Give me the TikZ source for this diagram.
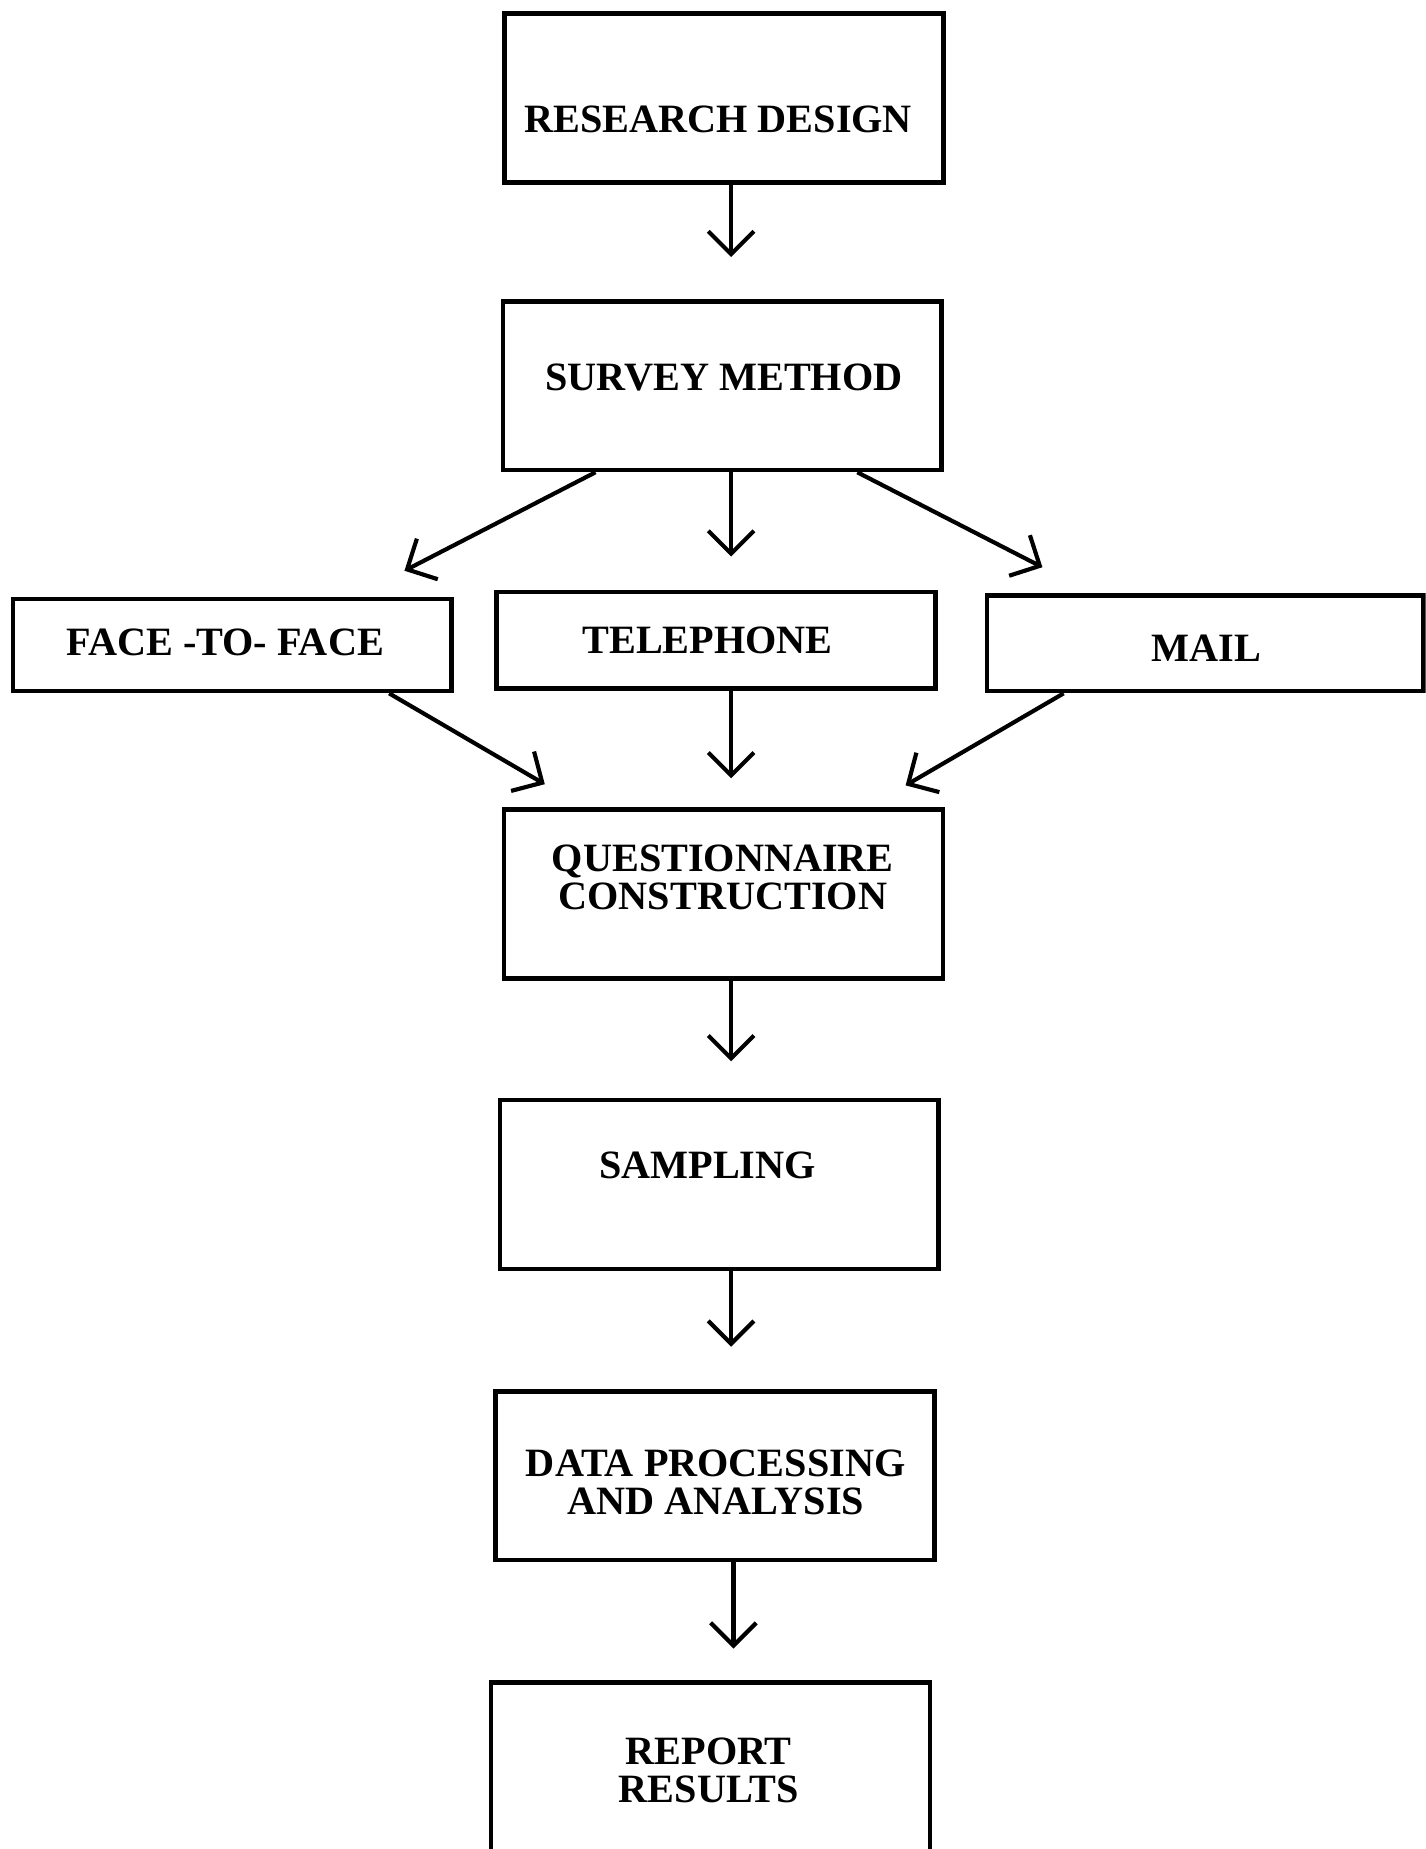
\documentclass[tikz,border=0pt]{standalone}
\usepackage{fontspec}
\setmainfont{Liberation Serif}
\usetikzlibrary{arrows.meta,positioning,calc}

\begin{document}
\begin{tikzpicture}[x=0.01cm,y=-0.01cm]
	\useasboundingbox (0,0) rectangle (1209,1568);
	\clip (0,0) rectangle (1209,1568);

	\begin{scope}[every node/.style={rectangle,draw,line width=1.1pt,minimum width=3.72cm,minimum height=1.43cm,inner sep=0pt}]
		\node (design) at (614,83) {};
		\node (survey) at (612.5,327) {};
		\node [minimum height=0.78cm] (face) at (197,547) {};
		\node [minimum height=0.82cm] (tele) at (607,543) {};
		\node [minimum height=0.81cm,minimum width=3.70cm] (mail) at (1022,545.5) {};
		\node (quest) at (613.5,758) {};
		\node (samp) at (610,1004.5) {};
		\node (data) at (606.5,1251.5) {};
		\node [minimum height=1.48cm] (report) at (602.5,1501) {};
	\end{scope}

	\begin{scope}[every node/.style={font=\bfseries\fontsize{9.7}{9.2}\selectfont,align=center,inner sep=0pt}]
		\node (designText) at (609,101) {RESEARCH DESIGN};
		\node (surveyText) at (614,320) {SURVEY METHOD};
		\node (faceText) at (191,545) {FACE -TO- FACE};
		\node (teleText) at (600,543) {TELEPHONE};
		\node (mailText) at (1023,550) {MAIL};
		\node (questText) at (613,744) {QUESTIONNAIRE\\CONSTRUCTION};
		\node (sampText) at (600,988) {SAMPLING};
		\node (dataText) at (607,1257) {DATA PROCESSING\\AND ANALYSIS};
		\node (reportText) at (601,1501) {REPORT\\RESULTS};
	\end{scope}

	\begin{scope}[>={Straight Barb[length=5.5pt,width=11pt]},line width=1pt]
		\coordinate (tipSurvey) at (620,218);
		\coordinate (tipFace) at (343,484);
		\coordinate (tipTele) at (620,472);
		\coordinate (tipMail) at (884,481);
		\coordinate (tipQuestL) at (462,665);
		\coordinate (tipQuest) at (620,660);
		\coordinate (tipQuestR) at (768,666);
		\coordinate (tipSamp) at (620,900);
		\coordinate (tipData) at (620,1142);
		\coordinate (tipReport) at (622,1398);

		\path (design.south -| tipSurvey) edge[->] (tipSurvey);
		\path ($(survey.south)+(-107.5,0)$) edge[->] (tipFace);
		\path (survey.south -| tipTele) edge[->] (tipTele);
		\path ($(survey.south)+(114.5,0)$) edge[->] (tipMail);
		\path ($(face.south)+(133,0)$) edge[->] (tipQuestL);
		\path (tele.south -| tipQuest) edge[->] (tipQuest);
		\path ($(mail.south)+(-120,0)$) edge[->] (tipQuestR);
		\path (quest.south -| tipSamp) edge[->] (tipSamp);
		\path (samp.south -| tipData) edge[->] (tipData);
		\path (data.south -| tipReport) edge[->] (tipReport);
	\end{scope}
\end{tikzpicture}
\end{document}
